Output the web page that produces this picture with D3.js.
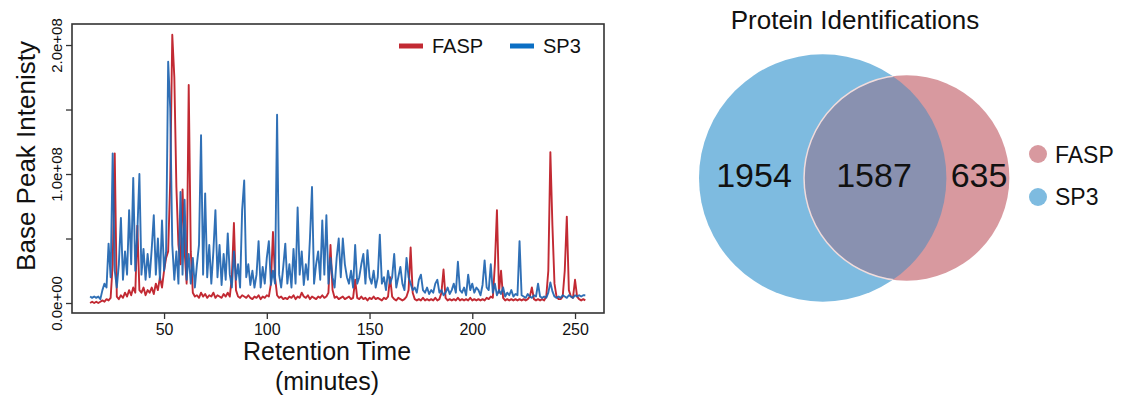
<!DOCTYPE html>
<html>
<head>
<meta charset="utf-8">
<script src="https://cdn.jsdelivr.net/npm/d3@7"></script>
<style>
  body { margin: 0; background: #fff; }
  svg { display: block; font-family: "Liberation Sans", Arial, Helvetica, sans-serif; }
</style>
</head>
<body>
<div id="root"></div>
<script>
// chromatogram: one value per minute, starting at minute 14 (units of 1e8)
const startMinute = 14;
const sp3Intensity = [
  0.05,0.04,0.05,0.04,0.05,0.03,0.10,0.15,0.12,0.46,
  0.20,1.16,0.25,0.12,0.30,0.66,0.18,0.40,0.22,0.72,
  0.30,0.97,0.25,0.55,1.00,0.22,0.42,0.18,0.38,0.20,
  0.42,0.68,0.22,0.50,0.18,0.64,0.25,0.40,1.87,1.51,
  0.45,0.18,0.40,0.15,0.86,0.22,0.80,0.18,0.38,0.15,
  0.35,0.12,0.30,0.45,1.30,0.22,0.85,0.20,0.45,0.15,
  0.40,0.72,0.20,0.45,0.14,0.38,0.18,0.54,0.22,0.12,
  0.40,0.18,0.30,0.12,0.72,0.95,0.20,0.30,0.14,0.25,
  0.12,0.22,0.48,0.12,0.28,0.15,0.35,0.48,0.14,0.25,
  0.15,1.46,0.22,0.12,0.28,0.46,0.15,0.30,0.12,0.42,
  0.15,0.74,0.22,0.40,0.14,0.30,0.18,0.50,0.90,0.15,
  0.30,0.40,0.18,0.64,0.22,0.68,0.15,0.35,0.20,0.12,
  0.35,0.50,0.20,0.50,0.30,0.20,0.15,0.25,0.12,0.45,
  0.15,0.20,0.30,0.38,0.15,0.41,0.20,0.15,0.25,0.12,
  0.20,0.53,0.15,0.20,0.10,0.25,0.15,0.20,0.38,0.12,
  0.20,0.28,0.15,0.10,0.35,0.20,0.15,0.10,0.12,0.08,
  0.18,0.22,0.10,0.08,0.12,0.07,0.10,0.08,0.15,0.18,
  0.08,0.10,0.06,0.08,0.12,0.07,0.10,0.15,0.08,0.32,
  0.10,0.08,0.12,0.06,0.22,0.10,0.15,0.08,0.12,0.10,
  0.06,0.14,0.33,0.12,0.10,0.30,0.08,0.15,0.06,0.10,
  0.07,0.12,0.05,0.08,0.06,0.10,0.05,0.07,0.06,0.48,
  0.06,0.05,0.04,0.07,0.05,0.04,0.06,0.05,0.15,0.05,
  0.04,0.05,0.04,0.08,0.16,0.09,0.05,0.04,0.05,0.04,
  0.06,0.05,0.04,0.06,0.05,0.04,0.06,0.05,0.06,0.05,
  0.06,0.06
];
const faspIntensity = [
  0.00,0.01,0.00,0.01,0.00,0.01,0.02,0.01,0.03,0.02,
  0.04,0.30,1.16,0.05,0.03,0.06,0.04,0.08,0.05,0.10,
  0.06,0.12,0.08,0.60,0.10,0.08,0.12,0.06,0.10,0.08,
  0.12,0.07,0.15,0.10,0.20,0.12,0.25,0.35,0.40,0.95,
  2.08,1.75,0.90,0.45,0.30,0.88,0.40,0.15,1.69,0.40,
  0.08,0.05,0.06,0.04,0.08,0.05,0.07,0.04,0.06,0.05,
  0.08,0.04,0.06,0.05,0.04,0.07,0.05,0.08,0.05,0.20,
  0.62,0.10,0.05,0.04,0.06,0.05,0.04,0.06,0.04,0.03,
  0.05,0.04,0.06,0.03,0.05,0.04,0.06,0.05,0.15,0.55,
  0.20,0.06,0.04,0.05,0.03,0.04,0.03,0.05,0.04,0.06,
  0.03,0.05,0.04,0.08,0.05,0.04,0.06,0.03,0.05,0.04,
  0.03,0.05,0.04,0.06,0.04,0.05,0.08,0.45,0.10,0.04,
  0.05,0.03,0.04,0.05,0.03,0.04,0.05,0.03,0.04,0.18,
  0.04,0.03,0.05,0.03,0.04,0.02,0.04,0.03,0.05,0.03,
  0.04,0.03,0.02,0.04,0.03,0.05,0.20,0.05,0.03,0.02,
  0.04,0.03,0.02,0.03,0.05,0.10,0.43,0.08,0.03,0.02,
  0.03,0.02,0.04,0.02,0.03,0.02,0.03,0.02,0.04,0.02,
  0.03,0.08,0.26,0.04,0.02,0.03,0.02,0.03,0.02,0.04,
  0.02,0.03,0.02,0.03,0.02,0.04,0.02,0.03,0.02,0.03,
  0.02,0.03,0.02,0.04,0.03,0.05,0.04,0.30,0.72,0.08,
  0.25,0.04,0.02,0.03,0.02,0.03,0.02,0.03,0.02,0.03,
  0.02,0.03,0.02,0.03,0.05,0.12,0.03,0.02,0.03,0.02,
  0.03,0.02,0.05,0.25,1.17,0.60,0.15,0.05,0.03,0.03,
  0.05,0.25,0.67,0.10,0.05,0.04,0.18,0.05,0.03,0.02,
  0.03,0.02
];
const xTicks = [50, 100, 150, 200, 250];
const yTicks = [0, 0.5, 1.0, 1.5, 2.0];
const yTickLabels = ["0.0e+00", "", "1.0e+08", "", "2.0e+08"];

// venn counts
const vennSets = ["FASP", "SP3"];
const vennOnly = { SP3: 1954, FASP: 635 };
const vennShared = 1587;

const width = 1123, height = 396;
const red = "#c22a33", blue = "#1e64b0";

const svg = d3.select("#root").append("svg")
  .attr("width", width)
  .attr("height", height);

//plot box
const plotLeft = 72, plotRight = 604, plotTop = 24, plotBottom = 313;
const xScale = d3.scaleLinear().domain([5.2, 264.1]).range([plotLeft, plotRight]);
const yScale = d3.scaleLinear().domain([-0.0775, 2.163]).range([plotBottom, plotTop]);

const minutes = sp3Intensity.map((d, i) => startMinute + i);

const line = d3.line()
  .x((d, i) => xScale(minutes[i]))
  .y(d => yScale(d));

svg.append("path")
  .datum(faspIntensity)
  .attr("d", line)
  .attr("fill", "none")
  .attr("stroke", red)
  .attr("stroke-width", 1.9)
  .attr("stroke-linejoin", "round");

svg.append("path")
  .datum(sp3Intensity)
  .attr("d", line)
  .attr("fill", "none")
  .attr("stroke", blue)
  .attr("stroke-width", 1.9)
  .attr("stroke-opacity", 0.92)
  .attr("stroke-linejoin", "round");

svg.append("rect")
  .attr("x", plotLeft).attr("y", plotTop)
  .attr("width", plotRight - plotLeft).attr("height", plotBottom - plotTop)
  .attr("fill", "none")
  .attr("stroke", "#333")
  .attr("stroke-width", 1.6);

//x axis
const xAxis = svg.append("g")
  .attr("transform", "translate(0," + plotBottom + ")")
  .call(d3.axisBottom(xScale).tickValues(xTicks).tickSize(6).tickFormat(d3.format("d")));
xAxis.select(".domain").remove();
xAxis.selectAll("line").attr("stroke", "#333").attr("stroke-width", 1.3);
xAxis.selectAll("text")
  .attr("y", 11)
  .attr("dy", "0.71em")
  .style("font-size", "16px")
  .style("font-family", "Liberation Sans, Arial, sans-serif")
  .attr("fill", "#111");

//y axis, labels rotated like R
const yAxis = svg.append("g")
  .attr("transform", "translate(" + plotLeft + ",0)")
  .call(d3.axisLeft(yScale).tickValues(yTicks).tickSize(6).tickFormat((d, i) => yTickLabels[i]));
yAxis.select(".domain").remove();
yAxis.selectAll("line").attr("stroke", "#333").attr("stroke-width", 1.3);
yAxis.selectAll("text")
  .attr("x", null).attr("dy", null)
  .attr("text-anchor", "middle")
  .attr("transform", "translate(-10,0) rotate(-90)")
  .style("font-size", "15px")
  .style("font-family", "Liberation Sans, Arial, sans-serif")
  .attr("fill", "#111");

//axis titles
svg.append("text")
  .attr("x", 327).attr("y", 360)
  .attr("text-anchor", "middle")
  .style("font-size", "25px")
  .attr("fill", "#111")
  .text("Retention Time");
svg.append("text")
  .attr("x", 327).attr("y", 390)
  .attr("text-anchor", "middle")
  .style("font-size", "25px")
  .attr("fill", "#111")
  .text("(minutes)");
svg.append("text")
  .attr("transform", "translate(35,156) rotate(-90)")
  .attr("text-anchor", "middle")
  .style("font-size", "26px")
  .attr("fill", "#111")
  .text("Base Peak Intenisty");

//line legend
const lineLegend = [{ name: "FASP", color: red, x: 399 }, { name: "SP3", color: "#0b6fc4", x: 510 }];
lineLegend.forEach(function(d) {
  svg.append("line")
    .attr("x1", d.x).attr("x2", d.x + 24)
    .attr("y1", 46).attr("y2", 46)
    .attr("stroke", d.color)
    .attr("stroke-width", 5);
  svg.append("text")
    .attr("x", d.x + 33).attr("y", 53)
    .style("font-size", "20px")
    .attr("fill", "#111")
    .text(d.name);
});

//venn diagram
const sp3Total = vennOnly.SP3 + vennShared;
const faspTotal = vennOnly.FASP + vennShared;
//circle radius from set size
const rScale = d3.scalePow().exponent(0.4).domain([0, sp3Total]).range([0, 123.7]);
const vennCy = 178;
const sp3Circle = { cx: 822.7, r: rScale(sp3Total) };
const faspCircle = { cx: 906.7, r: rScale(faspTotal) };

svg.append("text")
  .attr("x", 855).attr("y", 29)
  .attr("text-anchor", "middle")
  .style("font-size", "26px")
  .attr("fill", "#111")
  .text("Protein Identifications");

const defs = svg.append("defs");
defs.append("clipPath").attr("id", "sp3clip")
  .append("circle")
  .attr("cx", sp3Circle.cx).attr("cy", vennCy).attr("r", sp3Circle.r);

svg.append("circle")
  .attr("cx", sp3Circle.cx).attr("cy", vennCy).attr("r", sp3Circle.r)
  .attr("fill", "#7ebbe0");
svg.append("circle")
  .attr("cx", faspCircle.cx).attr("cy", vennCy).attr("r", faspCircle.r)
  .attr("fill", "#d8999f");
//overlap
svg.append("circle")
  .attr("cx", faspCircle.cx).attr("cy", vennCy).attr("r", faspCircle.r)
  .attr("clip-path", "url(#sp3clip)")
  .attr("fill", "#8991b0")
  .attr("stroke", "#f1dcdc")
  .attr("stroke-width", 1.5);

const vennLabels = [
  { x: 754, text: vennOnly.SP3 },
  { x: 874, text: vennShared },
  { x: 979, text: vennOnly.FASP }
];
svg.selectAll(".vennLabel")
  .data(vennLabels)
  .enter()
  .append("text")
  .attr("class", "vennLabel")
  .attr("x", d => d.x).attr("y", 187)
  .attr("text-anchor", "middle")
  .style("font-size", "34px")
  .attr("fill", "#111")
  .text(d => d.text);

//venn legend
const vennColors = { FASP: "#d8999f", SP3: "#7ebbe0" };
vennSets.forEach(function(name, i) {
  svg.append("circle")
    .attr("cx", 1038).attr("cy", 154 + i * 43)
    .attr("r", 9)
    .attr("fill", vennColors[name]);
  svg.append("text")
    .attr("x", 1055).attr("y", 163 + i * 42)
    .style("font-size", "23px")
    .attr("fill", "#111")
    .text(name);
});
</script>
</body>
</html>
